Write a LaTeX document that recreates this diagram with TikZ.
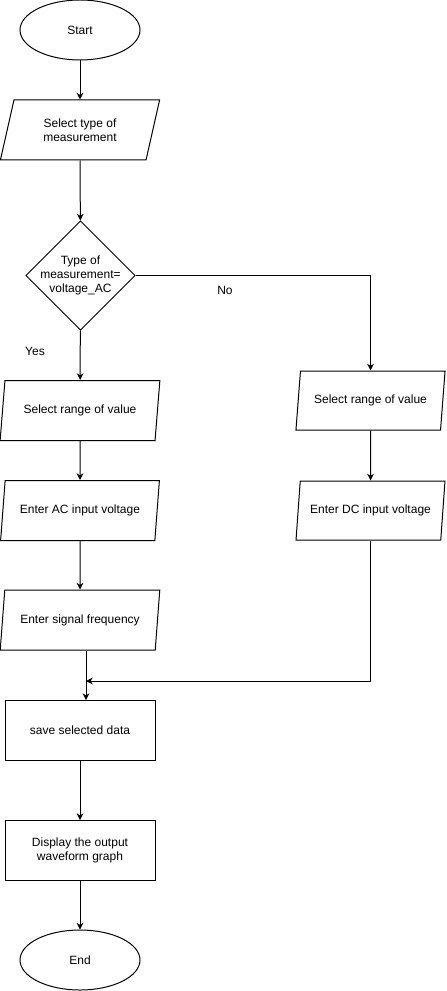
\documentclass[tikz,border=0pt]{standalone}
\usepackage{fontspec}
\setmainfont{Liberation Sans}
\usetikzlibrary{shapes.geometric,arrows.meta}
\begin{document}
\begin{tikzpicture}[x=0.75pt,y=-0.75pt,line width=0.75pt,
  every node/.style={font=\fontsize{9}{10.8}\selectfont},
  term/.style={draw,ellipse,minimum width=90pt,minimum height=45pt,inner sep=0pt},
  io/.style={draw,trapezium,trapezium left angle=72,trapezium right angle=108,
    trapezium stretches=true,minimum width=120pt,minimum height=45pt,inner sep=0pt,align=center},
  proc/.style={draw,rectangle,minimum width=112.5pt,minimum height=45pt,inner sep=0pt,align=center},
  dec/.style={draw,diamond,minimum width=82pt,minimum height=82pt,inner sep=0pt},
  arr/.style={-{Stealth[length=5pt,width=5pt,inset=1.5pt]}}]
\useasboundingbox (0,0) rectangle (446,991);
% left column
\node[term] (start) at (80,30) {Start};
\node[io] (seltype) at (80,130) {Select type of\\measurement};
\node[dec] (type) at (80.5,275.5) {};
\node[align=center] at (type) {Type of\\measurement=\\voltage\_AC};
\node[io] (rangeac) at (80,410.5) {Select range of value};
\node[io] (acin) at (80,510.5) {Enter AC input voltage};
\node[io] (freq) at (80,620) {Enter signal frequency};
\node[proc] (save) at (80,730.5) {save selected data};
\node[proc] (disp) at (80,850.5) {Display the output\\waveform graph};
\node[term] (end) at (80,960) {End};
% right column
\node[io,minimum width=112pt,minimum height=44.25pt] (rangedc) at (370.5,400.5) {Select range of value};
\node[io,minimum width=112pt,minimum height=44.25pt] (dcin) at (370.5,510.5) {Enter DC input voltage};
\coordinate (join) at (86,681);
% labels
\node (yes) at (35,351) {Yes};
\node (no) at (225,290) {No};
% connectors
\draw[arr] (start) -- (seltype);
\draw[arr] (seltype) -- (type);
\draw[arr] (type) -- (rangeac);
\draw[arr] (type.east) -| (rangedc.north);
\draw[arr] (rangeac) -- (acin);
\draw[arr] (acin) -- (freq);
\draw[arr] (freq.south -| join) -- (save.north -| join);
\draw[arr] (rangedc) -- (dcin);
\draw[arr] (dcin.south) |- (join);
\draw[arr] (save) -- (disp);
\draw[arr] (disp) -- (end);
\end{tikzpicture}
\end{document}
